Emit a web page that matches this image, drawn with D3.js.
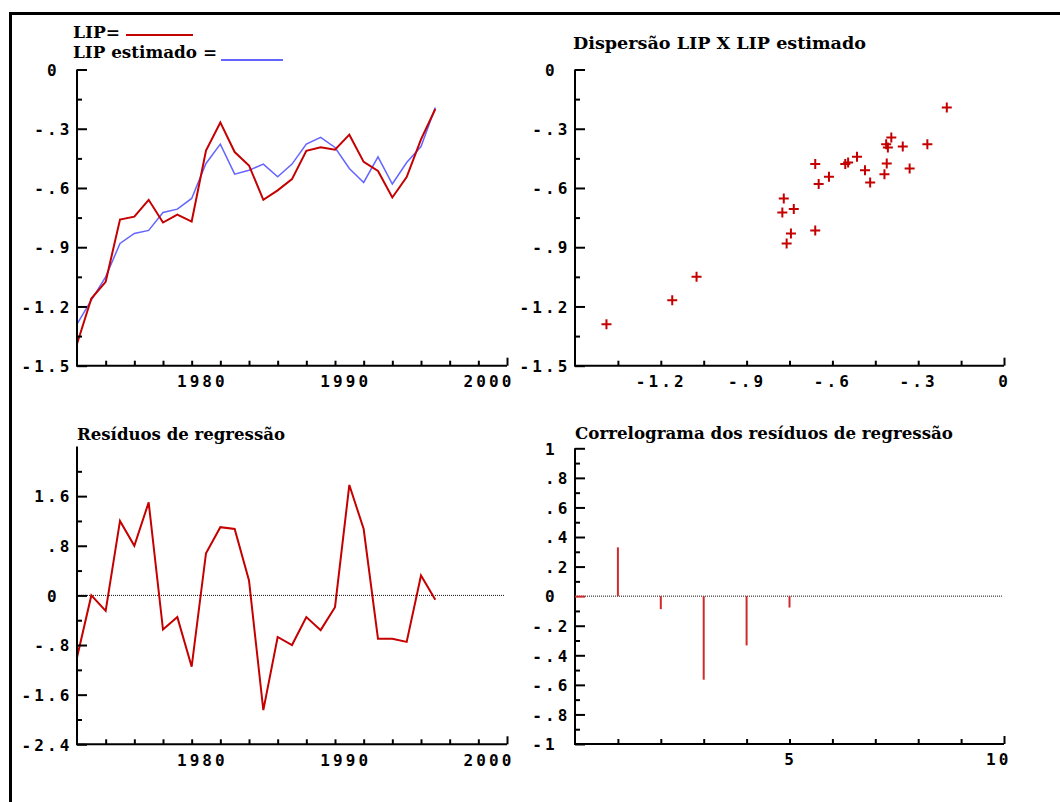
<!DOCTYPE html>
<html>
<head>
<meta charset="utf-8">
<script src="https://cdn.jsdelivr.net/npm/d3@7"></script>
<style>
  html, body { margin: 0; padding: 0; background: #fff; }
  svg { display: block; }
  .tick-label { font-family: "DejaVu Sans Mono", monospace; font-weight: bold; font-size: 16px; letter-spacing: 3.1px; fill: #000; }
  .title { font-family: "DejaVu Serif", serif; font-weight: bold; font-size: 16px; fill: #000; }
</style>
</head>
<body>
<svg id="chart" width="1060" height="802"></svg>
<script>
// ---- Data -------------------------------------------------------------
const years = [1970, 1971, 1972, 1973, 1974, 1975, 1976, 1977, 1978, 1979,
               1980, 1981, 1982, 1983, 1984, 1985, 1986, 1987, 1988, 1989,
               1990, 1991, 1992, 1993, 1994, 1995];
const lip = [-1.39, -1.16, -1.075, -0.76, -0.745, -0.66, -0.775, -0.735, -0.77, -0.41,
             -0.268, -0.418, -0.486, -0.66, -0.612, -0.555, -0.412, -0.394, -0.406, -0.33,
             -0.468, -0.514, -0.648, -0.545, -0.354, -0.2];
const lipEstimado = [-1.29, -1.168, -1.05, -0.881, -0.83, -0.815, -0.724, -0.707, -0.653, -0.476,
                     -0.378, -0.53, -0.51, -0.479, -0.543, -0.479, -0.378, -0.344, -0.395, -0.501,
                     -0.572, -0.442, -0.58, -0.471, -0.39, -0.192];
const residuos = [-1.0, 0.0, -0.25, 1.2, 0.8, 1.5, -0.55, -0.35, -1.15, 0.68,
                  1.1, 1.07, 0.24, -1.85, -0.67, -0.8, -0.35, -0.56, -0.19, 1.78,
                  1.07, -0.7, -0.7, -0.75, 0.32, -0.07];
const lags = [1, 2, 3, 4, 5];
const autocorr = [0.33, -0.088, -0.565, -0.333, -0.077];

// Axis tick values
const levelMajor = [0, -0.3, -0.6, -0.9, -1.2, -1.5];
const levelMinor = [-0.15, -0.45, -0.75, -1.05, -1.35];
const yearMinor = [1972, 1974, 1976, 1978, 1980, 1982, 1984, 1986, 1988, 1990, 1992, 1994, 1996, 1998, 2000];
const yearLabels = [1980, 1990, 2000];
const scatterXMinor = [-1.35, -1.2, -1.05, -0.9, -0.75, -0.6, -0.45, -0.3, -0.15, 0];
const scatterXLabels = [-1.2, -0.9, -0.6, -0.3, 0];
const residMajor = [1.6, 0.8, 0, -0.8, -1.6, -2.4];
const residMinor = [2.0, 1.2, 0.4, -0.4, -1.2, -2.0];
const corrMajor = [1, 0.8, 0.6, 0.4, 0.2, 0, -0.2, -0.4, -0.6, -0.8, -1];
const corrMinor = [0.9, 0.7, 0.5, 0.3, 0.1, -0.1, -0.3, -0.5, -0.7, -0.9];
const lagTicks = [1, 2, 3, 4, 5, 6, 7, 8, 9, 10];
const lagLabels = [5, 10];

// ---- Style ------------------------------------------------------------
const RED = "#c40000";
const BLUE = "#6464ff";
const BAR = "#d02a2a";
const CELL = 12.73;      // advance of one label character

const svg = d3.select("#chart");

// frame
svg.append("path")
  .attr("d", "M10.5,802V13.5H1060")
  .attr("fill", "none").attr("stroke", "#000").attr("stroke-width", 3);

// number format: drop the leading zero (".8", "-.3")
function fmt(v) {
  const s = String(+v.toFixed(2));
  return s.replace(/^(-?)0\./, "$1.");
}

function yAxis(g, scale, x, major, minor, opts = {}) {
  g.append("g").attr("transform", `translate(${x},0)`)
    .call(d3.axisLeft(scale).tickValues(minor).tickSize(-5).tickSizeOuter(0).tickFormat(""))
    .call(s => s.select(".domain").remove());
  const ax = g.append("g").attr("transform", `translate(${x},0)`)
    .call(d3.axisLeft(scale).tickValues(major).tickSize(-10).tickSizeOuter(0).tickPadding(0).tickFormat(fmt))
    .call(s => s.select(".domain").remove());
  ax.selectAll("text")
    .attr("class", "tick-label")
    .attr("text-anchor", "end")
    .attr("x", d => -4.5 - (Number.isInteger(d) ? CELL : 0))
    .attr("dy", "0.36em");
  g.selectAll(".tick line").attr("stroke", "#000").attr("stroke-width", 2);
  if (opts.zeroColor) ax.selectAll(".tick line").filter(d => d === 0).attr("stroke", opts.zeroColor);
}

function xAxis(g, scale, y, ticks, labels, anchor) {
  g.append("g").attr("transform", `translate(0,${y})`)
    .call(d3.axisBottom(scale).tickValues(ticks).tickSize(-5).tickSizeOuter(0).tickFormat(""))
    .call(s => s.select(".domain").remove())
    .selectAll(".tick line").attr("stroke", "#000").attr("stroke-width", 2)
    .filter(d => d === scale.domain()[1]).attr("y2", -8);
  const ax = g.append("g").attr("transform", `translate(0,${y})`)
    .call(d3.axisBottom(scale).tickValues(labels).tickSize(0).tickSizeOuter(0).tickPadding(10).tickFormat(fmt))
    .call(s => s.select(".domain").remove());
  ax.selectAll("text").attr("class", "tick-label");
  if (anchor === "end") {
    ax.selectAll("text").attr("text-anchor", "end").attr("x", 7);
  } else {
    ax.selectAll("text").attr("text-anchor", "middle").attr("x", 0);
  }
}

function frameAxes(g, xs, ys) {
  const [x0, x1] = xs.range();
  const yb = ys.range()[0], yt = ys.range()[1];
  g.append("path")
    .attr("d", `M${x0},${yt}V${yb}H${x1}`)
    .attr("fill", "none").attr("stroke", "#000").attr("stroke-width", 2);
}

// ---- Panel 1: LIP and LIP estimado over time ---------------------------
{
  const g = svg.append("g");
  const x = d3.scaleLinear().domain([1970, 2000]).range([77, 507]);
  const y = d3.scaleLinear().domain([-1.5, 0]).range([365.7, 69.5]);
  const line = d3.line().x((d, i) => x(years[i])).y(d => y(d));
  g.append("path").datum(lipEstimado).attr("d", line)
    .attr("fill", "none").attr("stroke", BLUE).attr("stroke-width", 1.5);
  g.append("path").datum(lip).attr("d", line)
    .attr("fill", "none").attr("stroke", RED).attr("stroke-width", 2);
  frameAxes(g, x, y);
  yAxis(g, y, 77, levelMajor, levelMinor);
  xAxis(g, x, 365.7, yearMinor, yearLabels, "end");

  // legend
  g.append("text").attr("class", "title").attr("x", 73).attr("y", 38.3)
    .attr("textLength", 47).attr("lengthAdjust", "spacingAndGlyphs").text("LIP=");
  g.append("line").attr("x1", 126).attr("x2", 193).attr("y1", 35).attr("y2", 35)
    .attr("stroke", RED).attr("stroke-width", 2);
  g.append("text").attr("class", "title").attr("x", 73).attr("y", 58.3)
    .attr("textLength", 144).attr("lengthAdjust", "spacingAndGlyphs").text("LIP estimado =");
  g.append("line").attr("x1", 221).attr("x2", 283).attr("y1", 60).attr("y2", 60)
    .attr("stroke", BLUE).attr("stroke-width", 2);
}

// ---- Panel 2: scatter LIP x LIP estimado -------------------------------
{
  const g = svg.append("g");
  const x = d3.scaleLinear().domain([-1.5, 0]).range([575, 1004]);
  const y = d3.scaleLinear().domain([-1.5, 0]).range([365.7, 69.5]);
  frameAxes(g, x, y);
  yAxis(g, y, 575, levelMajor, levelMinor);
  xAxis(g, x, 365.7, scatterXMinor, scatterXLabels, "middle");
  g.append("g").selectAll("path").data(lip).join("path")
    .attr("transform", (d, i) => `translate(${x(d)},${y(lipEstimado[i])})`)
    .attr("d", "M-5,0H5M0,-5V5")
    .attr("stroke", RED).attr("stroke-width", 2).attr("fill", "none");
  g.append("text").attr("class", "title").attr("x", 573).attr("y", 48.5)
    .attr("textLength", 293).attr("lengthAdjust", "spacingAndGlyphs").text("Dispersão LIP X LIP estimado");
}

// ---- Panel 3: regression residuals -------------------------------------
{
  const g = svg.append("g");
  const x = d3.scaleLinear().domain([1970, 2000]).range([77, 507]);
  const y = d3.scaleLinear().domain([-2.4, 2.4]).range([744.3, 446.5]);
  g.append("line").attr("x1", x(1970)).attr("x2", 505).attr("y1", y(0)).attr("y2", y(0))
    .attr("stroke", "#111").attr("stroke-width", 1).attr("stroke-dasharray", "1,1");
  const line = d3.line().x((d, i) => x(years[i])).y(d => y(d));
  g.append("path").datum(residuos).attr("d", line)
    .attr("fill", "none").attr("stroke", RED).attr("stroke-width", 2);
  frameAxes(g, x, y);
  yAxis(g, y, 77, residMajor, residMinor);
  xAxis(g, x, 744.3, yearMinor, yearLabels, "end");
  g.append("text").attr("class", "title").attr("x", 77).attr("y", 439.5)
    .attr("textLength", 208).attr("lengthAdjust", "spacingAndGlyphs").text("Resíduos de regressão");
}

// ---- Panel 4: residual correlogram -------------------------------------
{
  const g = svg.append("g");
  const x = d3.scaleLinear().domain([0, 10]).range([575, 1004]);
  const y = d3.scaleLinear().domain([-1, 1]).range([744, 448.3]);
  g.append("line").attr("x1", x(0)).attr("x2", 1003).attr("y1", y(0)).attr("y2", y(0))
    .attr("stroke", "#111").attr("stroke-width", 1).attr("stroke-dasharray", "1,1");
  g.append("g").selectAll("line").data(autocorr).join("line")
    .attr("x1", (d, i) => x(lags[i])).attr("x2", (d, i) => x(lags[i]))
    .attr("y1", y(0)).attr("y2", d => y(d))
    .attr("stroke", BAR).attr("stroke-width", 2);
  frameAxes(g, x, y);
  yAxis(g, y, 575, corrMajor, corrMinor, { zeroColor: BAR });
  xAxis(g, x, 744, lagTicks, lagLabels, "end");
  g.append("text").attr("class", "title").attr("x", 575).attr("y", 438.5)
    .attr("textLength", 378).attr("lengthAdjust", "spacingAndGlyphs").text("Correlograma dos resíduos de regressão");
}
</script>
</body>
</html>
